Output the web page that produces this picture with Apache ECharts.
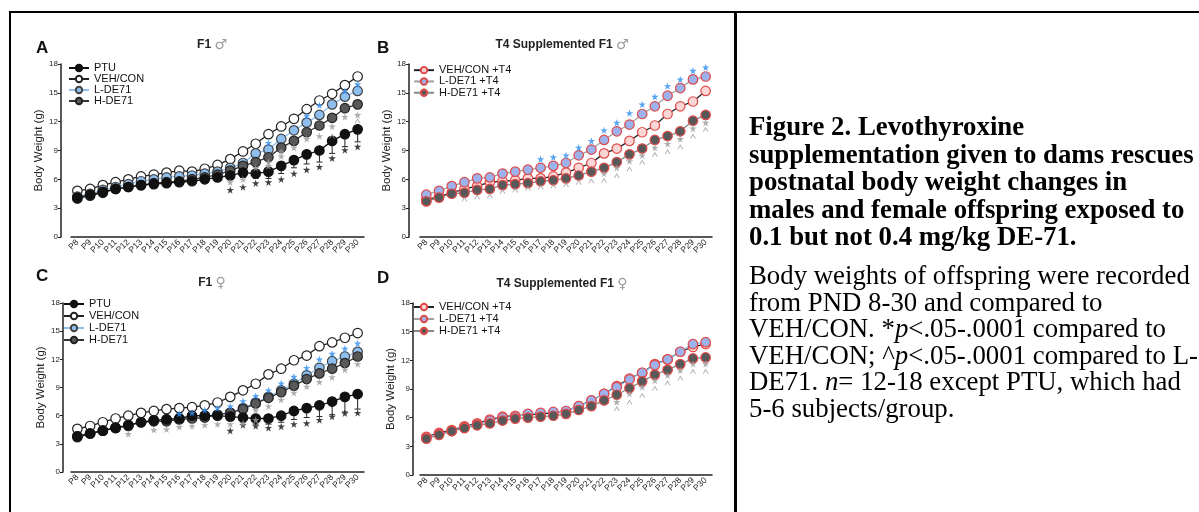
<!DOCTYPE html>
<html><head><meta charset="utf-8">
<script src="https://cdn.jsdelivr.net/npm/echarts@6/dist/echarts.min.js"></script>
<style>
html,body{margin:0;padding:0;background:#fff;width:1199px;height:512px;overflow:hidden;}
#chart{position:absolute;left:0;top:0;width:1199px;height:512px;}
.bl{position:absolute;background:#000;}
.cap{position:absolute;left:749px;font-family:"Liberation Serif","Times New Roman",serif;color:#000;white-space:nowrap;}
#cap1{font-weight:bold;font-size:26.8px;line-height:27.5px;top:113px;}
#cap2{font-size:26.8px;line-height:26.6px;top:262px;}
</style></head>
<body>
<div id="chart"></div>
<div class="bl" style="left:9px;top:11px;width:1190px;height:2px"></div>
<div class="bl" style="left:9px;top:11px;width:2px;height:501px"></div>
<div class="bl" style="left:734px;top:11px;width:3px;height:501px"></div>
<div class="cap" id="cap1">Figure 2. Levothyroxine<br>supplementation given to dams rescues<br>postnatal body weight changes in<br>males and female offspring exposed to<br>0.1 but not 0.4 mg/kg DE-71.</div>
<div class="cap" id="cap2">Body weights of offspring were recorded<br>from PND 8-30 and compared to<br>VEH/CON. *<i>p</i>&lt;.05-.0001 compared to<br>VEH/CON; ^<i>p</i>&lt;.05-.0001 compared to L-<br>DE71. <i>n</i>= 12-18 except PTU, which had<br>5-6 subjects/group.</div>
<script>
// ---------- data ----------
const days = ['P8','P9','P10','P11','P12','P13','P14','P15','P16','P17','P18','P19','P20','P21','P22','P23','P24','P25','P26','P27','P28','P29','P30'];
const yMin = 0, yMax = 18, yStep = 3;

// Panel A: F1 males
const a_ptu  = [4.1,4.4,4.7,5.0,5.2,5.4,5.5,5.6,5.7,5.8,6.0,6.2,6.4,6.7,6.6,6.8,7.4,8.0,8.6,9.0,10.0,10.7,11.2];
const a_veh  = [4.8,5.0,5.4,5.7,6.0,6.3,6.5,6.7,6.9,6.8,7.1,7.5,8.1,8.9,9.7,10.7,11.5,12.3,13.3,14.2,14.9,15.8,16.7];
const a_low  = [4.2,4.5,4.9,5.2,5.5,5.8,6.0,6.2,6.3,6.4,6.6,6.8,7.2,7.7,8.7,9.1,10.2,11.1,11.9,12.7,13.8,14.6,15.2];
const a_high = [4.0,4.3,4.6,5.0,5.2,5.4,5.6,5.7,5.8,6.0,6.2,6.5,6.9,7.4,7.8,8.3,9.3,10.0,10.9,11.6,12.4,13.4,13.8];
const a_ptu_err = [0.2,0.2,0.2,0.2,0.2,0.2,0.2,0.2,0.2,0.2,0.2,0.2,0.4,0.5,0.5,0.7,0.8,0.8,1.0,1.2,1.3,1.3,1.3];

// Panel B: T4 supplemented F1 males
const b_veh  = [3.9,4.2,4.6,5.0,5.3,5.7,5.8,5.9,6.1,6.1,6.3,6.7,7.2,7.7,8.7,9.2,10.0,10.9,11.6,12.8,13.6,14.1,15.2];
const b_low  = [4.4,4.8,5.3,5.7,6.1,6.2,6.6,6.8,7.0,7.2,7.4,7.7,8.5,9.1,10.1,11.0,11.7,12.8,13.6,14.7,15.5,16.4,16.7];
const b_high = [3.7,4.1,4.5,4.6,4.9,5.0,5.4,5.5,5.6,5.8,5.9,6.1,6.4,6.8,7.2,7.8,8.6,9.2,10.1,10.5,11.0,12.1,12.7];

// Panel C: F1 females
const c_ptu  = [3.8,4.1,4.4,4.7,5.0,5.3,5.5,5.6,5.7,6.0,6.0,6.0,5.9,5.8,5.7,5.7,6.0,6.5,6.8,7.1,7.5,8.0,8.3];
const c_veh  = [4.6,4.9,5.3,5.7,6.0,6.3,6.5,6.7,6.8,6.9,7.1,7.4,8.0,8.7,9.4,10.4,11.0,11.9,12.4,13.4,13.8,14.3,14.8];
const c_low  = [3.8,4.1,4.4,4.7,5.0,5.3,5.5,5.6,5.7,5.9,6.0,6.1,6.3,6.8,7.4,8.0,8.7,9.4,10.3,11.1,11.8,12.3,12.8];
const c_high = [3.7,4.1,4.4,4.7,4.9,5.3,5.4,5.4,5.6,5.7,5.8,6.1,6.3,6.7,7.3,7.9,8.5,9.2,9.9,10.5,11.0,11.6,12.3];
const c_ptu_err = [0.2,0.2,0.2,0.2,0.2,0.2,0.2,0.2,0.2,0.2,0.2,0.2,0.4,0.5,0.6,0.6,0.7,0.9,1.0,1.2,1.4,1.6,1.6];

// Panel D: T4 supplemented F1 females
const d_veh  = [4.0,4.4,4.7,5.1,5.4,5.8,6.1,6.2,6.3,6.4,6.5,6.7,7.2,7.8,8.5,9.3,10.1,10.7,11.6,12.1,12.9,13.4,13.7];
const d_low  = [3.9,4.3,4.6,5.0,5.3,5.7,6.0,6.1,6.4,6.5,6.6,6.7,7.2,7.8,8.5,9.2,10.0,10.7,11.5,12.1,12.9,13.7,13.9];
const d_high = [3.8,4.2,4.6,4.9,5.2,5.4,5.7,5.9,6.0,6.1,6.2,6.4,6.8,7.2,7.8,8.4,9.1,9.8,10.5,11.0,11.6,12.2,12.3];

// significance marks [day, position in g]
const a_starBlack = [['P20',4.9],['P21',5.2],['P22',5.6],['P23',5.7],['P24',6.0],['P25',6.6],['P26',7.0],['P27',7.3],['P28',8.2],['P29',9.05],['P30',9.4]];
const a_starGray  = [['P20',5.7],['P21',6.0],['P22',7.2],['P23',7.4],['P23',7.8],['P24',8.4],['P24',8.9],['P25',9.3],['P26',10.2],['P27',10.5],['P28',11.5],['P29',12.5],['P30',12.7]];
const a_starBlue  = [['P23',9.8],['P26',12.6],['P27',13.7],['P29',15.2],['P30',15.9]];
const a_caret     = [['P28',10.5],['P30',12.1]];

const b_starBlue  = [['P17',8.1],['P18',8.3],['P19',8.5],['P20',9.3],['P21',10.0],['P22',11.1],['P23',11.9],['P24',12.9],['P25',13.8],['P26',14.6],['P27',15.7],['P28',16.4],['P29',17.3],['P30',17.65]];
const b_starGray  = [['P22',6.6],['P23',7.2],['P24',7.9],['P25',8.5],['P26',9.3],['P27',9.7],['P28',10.2],['P29',11.3],['P30',11.9]];
const b_caret     = [['P11',3.95],['P12',4.2],['P13',4.3],['P14',4.75],['P15',4.9],['P16',5.1],['P17',5.2],['P18',5.3],['P19',5.45],['P20',5.7],['P21',5.85],['P22',5.9],['P23',6.4],['P24',7.1],['P25',7.8],['P26',8.6],['P27',8.9],['P28',9.4],['P29',10.5],['P30',11.2]];

const c_starBlack = [['P20',4.4],['P21',5.0],['P22',4.9],['P23',4.7],['P24',4.85],['P25',5.1],['P26',5.2],['P27',5.55],['P28',5.9],['P29',6.25],['P30',6.3]];
const c_starGray  = [['P12',4.05],['P14',4.5],['P15',4.55],['P16',4.8],['P17',4.9],['P18',5.0],['P19',5.1],['P20',5.1],['P21',5.2],['P22',5.55],['P22',6.6],['P23',7.0],['P24',7.7],['P25',8.45],['P26',9.1],['P27',9.6],['P28',10.1],['P29',10.9],['P30',11.5]];
const c_starBlue  = [['P16',6.2],['P17',6.3],['P18',6.6],['P19',6.8],['P20',7.0],['P21',7.55],['P22',8.1],['P23',8.7],['P24',9.45],['P25',10.15],['P26',11.1],['P27',12.0],['P28',12.6],['P29',13.15],['P30',13.7]];

const d_starGray  = [['P23',7.65],['P24',8.5],['P25',9.2],['P26',9.9],['P27',10.45],['P28',10.95],['P29',11.65],['P30',11.65]];
const d_caret     = [['P23',6.95],['P24',7.65],['P25',8.35],['P26',9.1],['P27',9.65],['P28',10.15],['P29',10.85],['P30',10.85]];

// ---------- styling ----------
const FONT = '"Liberation Sans", Arial, sans-serif';
const STAR = 'path://M50,0 L61,35 L98,35 L68,57 L79,91 L50,70 L21,91 L32,57 L2,35 L39,35 Z';
const CARET = 'path://M0,10 L5,0 L10,10 L8.2,10 L5,3.6 L1.8,10 Z';

const grids = [
  {left:71, top:64, width:293, height:173, yOff:10},
  {left:420, top:64, width:292, height:173, yOff:11},
  {left:71, top:303, width:293, height:169, yOff:8},
  {left:420, top:303, width:292, height:172, yOff:7}
];

function line(name, data, gi, fill, border, lc, z) {
  return {
    name, type:'line', xAxisIndex:gi, yAxisIndex:gi, data,
    symbol:'circle', symbolSize:9.5, z: z||2,
    lineStyle:{color:lc, width:1.3},
    itemStyle:{color:fill, borderColor:border, borderWidth:1.2},
    emphasis:{disabled:true}, animation:false
  };
}
function marks(data, gi, sym, color, size) {
  return {type:'scatter', xAxisIndex:gi, yAxisIndex:gi, data, symbol:sym, symbolSize:size,
    itemStyle:{color}, z:5, silent:true, animation:false};
}
function errs(vals, e, gi, color) {
  return {type:'custom', xAxisIndex:gi, yAxisIndex:gi, z:1, silent:true, animation:false,
    data: vals.map((v,i)=>[i, v, e[i]]),
    renderItem:(p, api)=>{
      const x = api.value(0), v = api.value(1), d = api.value(2);
      const p1 = api.coord([x, v]), p2 = api.coord([x, v - d]);
      return {type:'group', children:[
        {type:'line', shape:{x1:p1[0],y1:p1[1],x2:p2[0],y2:p2[1]}, style:{stroke:color,lineWidth:1}},
        {type:'line', shape:{x1:p2[0]-3,y1:p2[1],x2:p2[0]+3,y2:p2[1]}, style:{stroke:color,lineWidth:1}}
      ]};
    }};
}

const BLUE_FILL = '#8fbfee', BLUE_LINE = '#8fc0f0', DARK = '#585858';
const PINK_FILL = '#fbd6d6', RED = '#e04a4a', LAV = '#9db2ea';
const SBLUE = '#2f8ff0', SGRAY = '#9a9a9a', SBLACK = '#111';

const series = [
  // A
  errs(a_ptu, a_ptu_err, 0, '#222'),
  line('PTU', a_ptu, 0, '#111', '#111', '#111', 4),
  line('VEH/CON', a_veh, 0, '#fff', '#222', '#222', 3),
  line('L-DE71', a_low, 0, BLUE_FILL, '#444', BLUE_LINE, 3),
  line('H-DE71', a_high, 0, DARK, '#222', '#333', 3),
  marks(a_starBlack, 0, STAR, SBLACK, 7.5),
  marks(a_starGray, 0, STAR, SGRAY, 7.5),
  marks(a_starBlue, 0, STAR, SBLUE, 7.5),
  marks(a_caret, 0, CARET, SGRAY, [6,5]),
  // B
  line('VEH/CON +T4', b_veh, 1, PINK_FILL, RED, '#222', 3),
  line('L-DE71 +T4', b_low, 1, LAV, RED, '#a0a0a0', 3),
  line('H-DE71 +T4', b_high, 1, DARK, RED, '#888', 3),
  marks(b_starBlue, 1, STAR, SBLUE, 7.5),
  marks(b_starGray, 1, STAR, SGRAY, 7.5),
  marks(b_caret, 1, CARET, SGRAY, [6,5]),
  // C
  errs(c_ptu, c_ptu_err, 2, '#222'),
  line('PTU', c_ptu, 2, '#111', '#111', '#111', 4),
  line('VEH/CON', c_veh, 2, '#fff', '#222', '#222', 3),
  line('L-DE71', c_low, 2, BLUE_FILL, '#444', BLUE_LINE, 3),
  line('H-DE71', c_high, 2, DARK, '#222', '#333', 3),
  marks(c_starBlack, 2, STAR, SBLACK, 7.5),
  marks(c_starGray, 2, STAR, SGRAY, 7.5),
  marks(c_starBlue, 2, STAR, SBLUE, 7.5),
  // D
  line('VEH/CON +T4', d_veh, 3, PINK_FILL, RED, '#222', 3),
  line('L-DE71 +T4', d_low, 3, LAV, RED, BLUE_LINE, 3),
  line('H-DE71 +T4', d_high, 3, DARK, RED, '#888', 3),
  marks(d_starGray, 3, STAR, SGRAY, 7.5),
  marks(d_caret, 3, CARET, SGRAY, [6,5])
];

const xAxes = grids.map((g,i)=>({
  type:'category', gridIndex:i, data:days, boundaryGap:true,
  axisLine:{lineStyle:{color:'#222', width:1.5}},
  axisTick:{inside:true, length:3, alignWithLabel:true, lineStyle:{color:'#222'}},
  axisLabel:{interval:0, rotate:45, fontSize:8.5, color:'#222', margin:4, fontFamily:FONT}
}));
const yAxes = grids.map((g,i)=>({
  type:'value', gridIndex:i, min:yMin, max:yMax, interval:yStep, offset:g.yOff,
  name:'Body Weight (g)', nameLocation:'middle', nameGap:11,
  nameTextStyle:{fontSize:11.5, color:'#222', fontFamily:FONT},
  axisLine:{show:true, lineStyle:{color:'#222', width:1.5}},
  axisTick:{show:true, length:3, lineStyle:{color:'#222'}},
  axisLabel:{fontSize:8, color:'#222', margin:3, fontFamily:FONT},
  splitLine:{show:false}
}));

function legTxt(lh) { return {fontSize:11, color:'#111', fontFamily:FONT, lineHeight:lh}; }
const legends = [
  {data:['PTU','VEH/CON','L-DE71','H-DE71'], left:68, top:62.5, orient:'vertical', itemGap:0, itemWidth:20, itemHeight:8, textStyle:legTxt(11), selectedMode:false, padding:0},
  {data:['VEH/CON +T4','L-DE71 +T4','H-DE71 +T4'], left:413, top:64.5, orient:'vertical', itemGap:0, itemWidth:20, itemHeight:8, textStyle:legTxt(11.3), selectedMode:false, padding:0},
  {data:['PTU','VEH/CON','L-DE71','H-DE71'], left:63, top:298, orient:'vertical', itemGap:0, itemWidth:20, itemHeight:8, textStyle:legTxt(12), selectedMode:false, padding:0},
  {data:['VEH/CON +T4','L-DE71 +T4','H-DE71 +T4'], left:413, top:301, orient:'vertical', itemGap:0, itemWidth:20, itemHeight:8, textStyle:legTxt(12), selectedMode:false, padding:0}
];

function ttl(x, y, txt, sym) {
  return {type:'text', x, y, silent:true, style:{
    text:'{b|' + txt + '} {s|' + sym + '}', align:'center', verticalAlign:'middle',
    rich:{b:{fontSize:12, fontWeight:'bold', fill:'#222', fontFamily:FONT},
          s:{fontSize:14, fill:'#999', fontFamily:'"DejaVu Sans", sans-serif'}}}};
}
function letter(x, y, t) {
  return {type:'text', x, y, silent:true, style:{text:t, fontSize:17, fontWeight:'bold', fill:'#111',
    fontFamily:FONT, verticalAlign:'middle'}};
}

const chart = echarts.init(document.getElementById('chart'), null, {renderer:'canvas'});
chart.setOption({
  animation:false,
  backgroundColor:'#fff',
  grid: grids.map(g=>({left:g.left, top:g.top, width:g.width, height:g.height, containLabel:false})),
  xAxis: xAxes, yAxis: yAxes, legend: legends, series,
  graphic:[
    letter(36, 48, 'A'), letter(377, 48, 'B'), letter(36, 276, 'C'), letter(377, 278, 'D'),
    ttl(212, 45, 'F1', '\u2642'), ttl(562, 45, 'T4 Supplemented F1', '\u2642'),
    ttl(212, 283, 'F1', '\u2640'), ttl(562, 284, 'T4 Supplemented F1', '\u2640')
  ]
});
</script>
</body></html>
